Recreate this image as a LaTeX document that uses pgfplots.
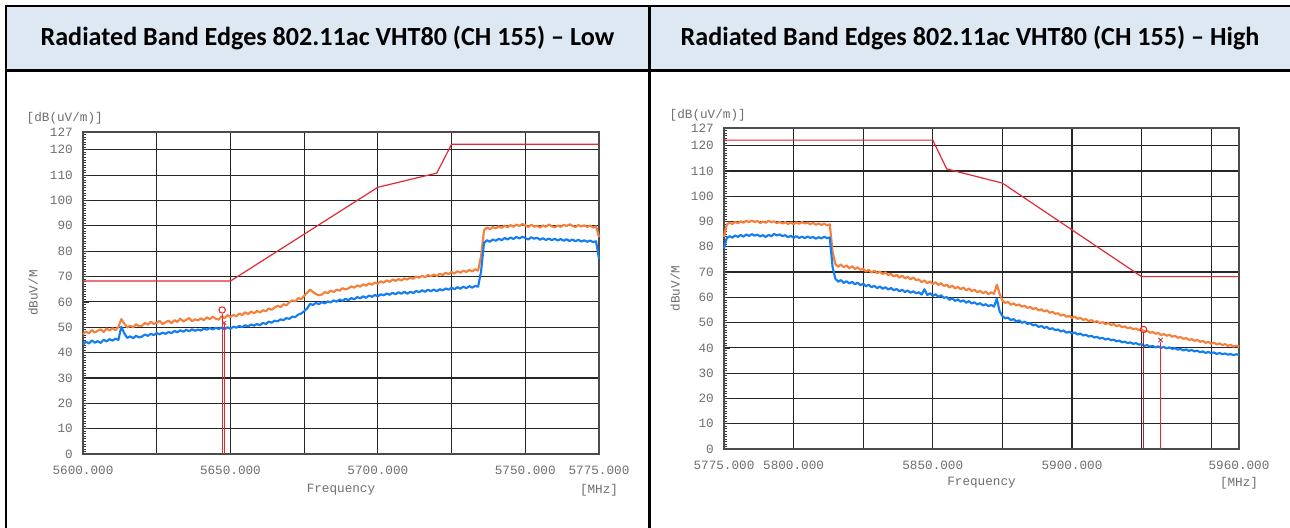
\documentclass[border=0pt]{standalone}
\usepackage{pgfplots}
\pgfplotsset{compat=1.18}
\usepackage{pgfplotstable}
\usepackage{fontspec}
\setmainfont{Carlito}
\newfontfamily\mono{Liberation Mono}
\definecolor{hdr}{RGB}{222,232,243}
\definecolor{pk}{RGB}{245,128,60}
\definecolor{av}{RGB}{20,125,240}
\definecolor{lim}{RGB}{228,40,50}
\definecolor{lbl}{RGB}{110,110,110}

\pgfplotstableread{
f pk av
5600 47.2 43.2
5601 48.3 44.3
5602 47.6 43.6
5603 48.9 44.8
5604 47.9 43.9
5605 48.6 44.5
5606 49.2 43.8
5607 48.1 45.1
5608 49.5 44.4
5609 48.7 45.3
5610 49.6 44.7
5611 48.8 45.5
5612 50.1 45.0
5613 53.2 50.2
5614 51.4 47.6
5615 49.9 45.8
5616 50.6 46.4
5617 50.0 45.7
5618 51.2 46.6
5619 50.4 46.0
5620 50.6 46.3
5621 51.7 47.1
5622 51.0 46.6
5623 52.2 47.4
5624 51.3 46.9
5625 51.8 47.7
5626 52.5 47.2
5627 51.2 47.9
5628 52.0 47.4
5629 52.6 48.1
5630 51.6 47.7
5631 52.8 48.5
5632 52.1 48.0
5633 53.4 48.8
5634 52.3 48.2
5635 52.9 49.0
5636 53.6 48.4
5637 52.4 49.2
5638 53.1 48.6
5639 52.7 49.1
5640 53.5 48.7
5641 52.8 49.5
5642 53.9 49.0
5643 53.2 49.7
5644 54.1 49.1
5645 53.4 49.8
5646 53.0 49.3
5647 54.4 49.9
5648 53.6 49.2
5649 54.8 50.0
5650 54.0 49.4
5651 54.9 50.2
5652 54.3 49.8
5653 55.4 50.5
5654 54.8 50.0
5655 55.9 50.8
5656 55.1 50.3
5657 56.2 51.1
5658 55.5 50.6
5659 56.4 51.3
5660 55.8 50.8
5661 56.7 51.7
5662 56.3 51.3
5663 57.4 52.2
5664 56.9 51.8
5665 57.8 52.6
5666 58.5 52.3
5667 57.9 53.1
5668 59.1 52.8
5669 58.6 53.6
5670 59.9 53.3
5671 60.6 54.2
5672 60.2 54.0
5673 61.5 55.0
5674 61.0 55.4
5675 62.4 56.3
5676 63.6 57.4
5677 64.8 59.2
5678 63.9 58.8
5679 63.1 59.6
5680 62.6 59.1
5681 62.9 59.9
5682 63.9 59.4
5683 63.4 60.2
5684 64.5 59.8
5685 63.9 60.6
5686 64.8 60.1
5687 64.4 60.9
5688 65.4 60.4
5689 64.9 61.2
5690 65.3 60.7
5691 66.1 61.5
5692 65.6 61.0
5693 66.5 61.9
5694 66.0 61.4
5695 66.9 62.2
5696 66.4 61.6
5697 67.3 62.5
5698 66.8 62.0
5699 67.6 62.7
5700 67.2 62.2
5701 68.1 63.0
5702 67.6 62.6
5703 68.5 63.3
5704 67.9 62.8
5705 68.8 63.6
5706 68.3 63.0
5707 69.0 63.8
5708 68.4 63.2
5709 69.3 64.0
5710 68.8 63.2
5711 69.6 64.0
5712 69.1 63.5
5713 70.0 64.3
5714 69.5 63.8
5715 70.3 64.6
5716 69.7 64.0
5717 70.6 64.8
5718 70.1 64.2
5719 70.8 64.9
5720 70.2 64.2
5721 71.1 65.0
5722 70.6 64.5
5723 71.5 65.3
5724 70.9 64.8
5725 71.8 65.6
5726 71.2 65.0
5727 72.1 65.8
5728 71.5 65.2
5729 72.3 66.0
5730 71.8 65.4
5731 72.6 66.2
5732 72.0 65.6
5733 72.9 66.3
5734 72.3 66.0
5735 78.0 72.0
5736 88.2 83.2
5737 89.3 84.3
5738 88.7 83.7
5739 89.5 84.6
5740 89.0 84.1
5741 89.8 84.9
5742 89.2 84.3
5743 90.1 85.2
5744 89.4 84.6
5745 90.3 85.4
5746 89.6 84.8
5747 90.5 85.6
5748 89.9 85.0
5749 90.7 85.7
5750 90.2 85.2
5751 89.5 84.6
5752 90.4 85.5
5753 89.7 84.9
5754 90.0 85.3
5755 89.3 84.5
5756 90.2 85.1
5757 89.6 84.4
5758 90.5 85.0
5759 89.8 84.3
5760 89.4 84.9
5761 90.1 84.2
5762 89.6 84.8
5763 90.4 84.1
5764 89.9 84.7
5765 90.6 84.0
5766 90.0 84.6
5767 89.5 83.9
5768 90.3 84.5
5769 89.7 83.8
5770 90.2 84.3
5771 89.6 83.7
5772 90.1 84.2
5773 89.3 83.6
5774 89.8 83.9
5775 85.5 77.0
}\lowdata

\pgfplotstableread{
f pk av
5775 84.0 79.5
5776 88.8 83.4
5777 89.6 84.2
5778 89.0 83.6
5779 89.9 84.5
5780 89.3 83.9
5781 90.1 84.7
5782 89.5 84.0
5783 90.3 84.9
5784 89.7 84.3
5785 90.4 85.0
5786 89.8 84.4
5787 90.2 84.8
5788 89.4 84.1
5789 90.0 84.6
5790 89.5 83.9
5791 90.3 84.7
5792 89.7 84.2
5793 90.1 85.1
5794 89.3 84.5
5795 89.9 84.9
5796 89.2 84.2
5797 89.8 84.6
5798 89.0 83.8
5799 89.6 84.3
5800 88.9 83.6
5801 89.7 84.2
5802 89.1 83.5
5803 89.8 84.0
5804 89.2 83.4
5805 89.6 84.1
5806 88.9 83.5
5807 89.5 83.9
5808 88.7 83.2
5809 89.3 83.8
5810 88.6 83.3
5811 89.2 84.0
5812 88.5 83.4
5813 88.9 83.7
5814 78.0 72.0
5815 73.2 67.4
5816 72.1 66.2
5817 73.0 66.8
5818 71.9 65.7
5819 72.6 66.4
5820 71.5 65.5
5821 72.3 66.1
5822 71.2 65.2
5823 71.9 65.8
5824 70.9 64.8
5825 71.3 65.4
5826 70.2 64.4
5827 70.9 65.0
5828 69.8 64.0
5829 70.6 64.6
5830 69.5 63.6
5831 70.2 64.3
5832 69.2 63.4
5833 69.9 64.0
5834 68.8 63.1
5835 69.3 63.7
5836 68.2 62.8
5837 68.9 63.3
5838 67.8 62.4
5839 68.6 63.0
5840 67.5 62.1
5841 68.2 62.7
5842 67.1 61.8
5843 67.9 62.4
5844 66.8 61.6
5845 67.1 62.0
5846 66.0 61.1
5847 66.7 63.2
5848 65.6 60.9
5849 66.3 61.6
5850 65.2 60.6
5851 66.0 61.2
5852 64.9 60.2
5853 65.6 60.8
5854 64.5 59.8
5855 65.0 60.1
5856 63.9 59.0
5857 64.6 59.6
5858 63.5 58.6
5859 64.2 59.2
5860 63.2 58.3
5861 63.9 58.8
5862 62.8 57.9
5863 63.5 58.5
5864 62.5 57.6
5865 63.0 58.0
5866 62.0 57.2
5867 62.6 57.7
5868 61.6 56.8
5869 62.3 57.3
5870 61.2 56.5
5871 62.0 57.0
5872 61.4 56.3
5873 65.0 59.5
5874 61.5 54.5
5875 58.7 52.6
5876 57.8 51.7
5877 58.2 52.0
5878 57.1 51.0
5879 57.6 51.4
5880 56.8 50.4
5881 57.2 50.9
5882 56.3 49.9
5883 56.7 50.4
5884 55.8 49.5
5885 56.2 49.8
5886 55.3 48.9
5887 55.8 49.2
5888 54.8 48.3
5889 55.3 48.7
5890 54.4 47.9
5891 54.9 48.3
5892 53.9 47.4
5893 54.3 47.8
5894 53.5 47.0
5895 53.7 47.3
5896 52.8 46.5
5897 53.2 46.9
5898 52.3 46.0
5899 52.7 46.4
5900 51.9 45.7
5901 52.4 46.1
5902 51.5 45.3
5903 51.9 45.7
5904 51.1 44.9
5905 51.4 45.2
5906 50.6 44.5
5907 51.0 44.8
5908 50.2 44.1
5909 50.6 44.4
5910 49.8 43.7
5911 50.2 44.0
5912 49.4 43.3
5913 49.8 43.7
5914 49.1 43.0
5915 49.4 43.3
5916 48.6 42.6
5917 49.0 42.9
5918 48.2 42.2
5919 48.5 42.5
5920 47.8 41.9
5921 48.1 42.2
5922 47.4 41.6
5923 47.7 41.9
5924 47.0 41.3
5925 47.3 41.5
5926 46.5 40.8
5927 46.8 41.1
5928 46.0 40.5
5929 46.3 40.8
5930 45.6 40.2
5931 45.9 40.6
5932 45.1 40.0
5933 45.5 40.4
5934 44.8 39.8
5935 45.2 40.2
5936 44.4 39.6
5937 44.8 39.9
5938 44.0 39.3
5939 44.3 39.6
5940 43.6 39.0
5941 43.9 39.4
5942 43.1 38.8
5943 43.5 39.2
5944 42.8 38.6
5945 43.2 38.9
5946 42.4 38.3
5947 42.8 38.6
5948 42.0 38.0
5949 42.4 38.4
5950 41.7 37.9
5951 42.0 38.2
5952 41.4 37.6
5953 41.8 38.0
5954 41.1 37.5
5955 41.5 37.8
5956 40.8 37.3
5957 41.2 37.6
5958 40.5 37.1
5959 40.9 37.5
5960 40.4 37.2
}\highdata

\pgfplotsset{emc/.style={
  scale only axis, clip=false,
  ymin=0, ymax=127,
  ytick={0,10,20,30,40,50,60,70,80,90,100,110,120,127},
  yticklabels={0,10,20,30,40,50,60,70,80,90,100,110,120,127},
  minor ytick={0,1,...,127},
  ytick pos=left,
  grid=major,
  major grid style={black!85, line width=0.9pt},
  axis line style={black!70, line width=1pt},
  xtick style={draw=none},
  ytick style={black!80, line width=0.5pt},
  major tick length=4.5pt,
  minor tick length=2.5pt,
  tick label style={font=\mono\fontsize{9.5}{11}\selectfont, text=lbl},
  yticklabel style={anchor=east, inner sep=0pt, xshift=-7.5pt},
  xticklabel style={anchor=center, inner sep=0pt, yshift=-12pt},
  every axis plot/.append style={line join=round},
}}

\begin{document}
\begin{tikzpicture}
\path[use as bounding box] (0,0) rectangle (967.5pt,-396pt);
\fill[hdr] (4.5pt,-4.5pt) rectangle (968.5pt,-53pt);
\draw[black, line width=1.8pt] (4.5pt,-398pt) -- (4.5pt,-4.5pt) -- (969pt,-4.5pt);
\draw[black, line width=1.8pt] (4.5pt,-53pt) -- (969pt,-53pt);
\draw[black, line width=1.8pt] (487pt,-4.5pt) -- (487pt,-398pt);
\node[font=\bfseries\fontsize{19.6}{23}\selectfont] at (245.5pt,-28.5pt) {Radiated Band Edges 802.11ac VHT80 (CH 155) – Low};
\node[font=\bfseries\fontsize{19.6}{23}\selectfont] at (727.5pt,-28.5pt) {Radiated Band Edges 802.11ac VHT80 (CH 155) – High};

\begin{axis}[emc,
  at={(62.25pt,-340.5pt)}, anchor=south west,
  width=387pt, height=241.5pt,
  xmin=5600, xmax=5775,
  xtick={5600,5625,5650,5675,5700,5725,5750,5775},
  xticklabels={5600.000,,5650.000,,5700.000,,5750.000,5775.000}]
\addplot[pk, line width=1.6pt] table[x=f, y=pk] {\lowdata};
\addplot[av, line width=1.6pt] table[x=f, y=av] {\lowdata};
\addplot[lim, line width=0.9pt] coordinates {(5600,68.2) (5650,68.2) (5700,105.2) (5720,110.8) (5725,122.2) (5775,122.2)};
\addplot[lim, line width=0.8pt] coordinates {(5647.2,0) (5647.2,55.3)};
\addplot[lim, line width=0.6pt] coordinates {(5647.9,0) (5647.9,51.7)};
\addplot[lim, only marks, mark=o, mark size=2.4pt, mark options={line width=0.8pt}] coordinates {(5647.2,56.8)};
\addplot[lim, only marks, mark=x, mark size=2.2pt, mark options={line width=0.6pt}] coordinates {(5647.9,51.7)};
\node[anchor=west, xshift=-45.75pt, yshift=10.5pt, font=\mono\fontsize{9.5}{11}\selectfont, text=lbl] at (rel axis cs:0,1) {[dB(uV/m)]};
\node[xshift=-37.5pt, rotate=90, font=\mono\fontsize{9.5}{11}\selectfont, text=lbl] at (rel axis cs:0,0.5) {dBuV/M};
\node[yshift=-27pt, font=\mono\fontsize{9.5}{11}\selectfont, text=lbl] at (rel axis cs:0.5,0) {Frequency};
\node[yshift=-27pt, font=\mono\fontsize{9.5}{11}\selectfont, text=lbl] at (rel axis cs:1,0) {[MHz]};
\end{axis}

\begin{axis}[emc,
  at={(543pt,-336.75pt)}, anchor=south west,
  width=386.25pt, height=240.75pt,
  xmin=5775, xmax=5960,
  xtick={5775,5800,5825,5850,5875,5900,5925,5950,5960},
  xticklabels={5775.000,5800.000,,5850.000,,5900.000,,,5960.000}]
\addplot[pk, line width=1.6pt] table[x=f, y=pk] {\highdata};
\addplot[av, line width=1.6pt] table[x=f, y=av] {\highdata};
\addplot[lim, line width=0.9pt] coordinates {(5775,122.2) (5850,122.2) (5855,110.8) (5875,105.2) (5925,68.2) (5960,68.2)};
\addplot[lim!80!black, line width=1.4pt] coordinates {(5925.7,0) (5925.7,45.8)};
\addplot[lim, line width=0.5pt] coordinates {(5931.8,0) (5931.8,42.2)};
\addplot[lim, only marks, mark=o, mark size=2.4pt, mark options={line width=0.8pt}] coordinates {(5925.7,47.3)};
\addplot[lim!80!black, only marks, mark=x, mark size=2.2pt, mark options={line width=0.6pt}] coordinates {(5931.8,43.1)};
\node[anchor=west, xshift=-44.25pt, yshift=9.75pt, font=\mono\fontsize{9.5}{11}\selectfont, text=lbl] at (rel axis cs:0,1) {[dB(uV/m)]};
\node[xshift=-36.75pt, rotate=90, font=\mono\fontsize{9.5}{11}\selectfont, text=lbl] at (rel axis cs:0,0.5) {dBuV/M};
\node[yshift=-25.5pt, font=\mono\fontsize{9.5}{11}\selectfont, text=lbl] at (rel axis cs:0.5,0) {Frequency};
\node[yshift=-25.5pt, font=\mono\fontsize{9.5}{11}\selectfont, text=lbl] at (rel axis cs:1,0) {[MHz]};
\end{axis}
\end{tikzpicture}
\end{document}
